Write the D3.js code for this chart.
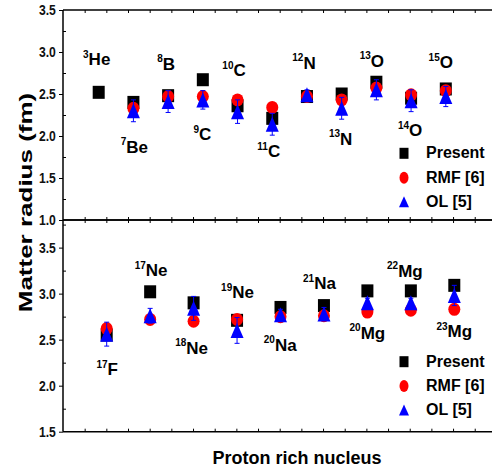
<!DOCTYPE html>
<html lang="en">
  <script src="https://d3js.org/d3.v7.min.js"></script>
  <style>
    body {
      margin: 0;
      background: #fff;
    }
    text {
      font-family: "Liberation Sans", Arial, sans-serif;
      font-weight: bold;
    }
  </style>
  <body>
    <svg width="492" height="471"></svg>
    <script>
      // upper panel: light proton rich nuclei
      const topMass = [3, 7, 8, 9, 10, 11, 12, 13, 13, 14, 15];
      const topElem = ["He", "Be", "B", "C", "C", "C", "N", "N", "O", "O", "O"];
      const topPresent = [2.52, 2.4, 2.48, 2.67, 2.36, 2.21, 2.47, 2.5, 2.64, 2.45, 2.56];
      const topRMF = [null, 2.33, 2.47, 2.47, 2.43, 2.34, 2.47, 2.43, 2.57, 2.49, 2.54];
      const topOL = [null, 2.3, 2.41, 2.43, 2.29, 2.14, 2.49, 2.33, 2.55, 2.42, 2.47];
      const topOLErr = [null, 0.13, 0.13, 0.11, 0.14, 0.13, 0.06, 0.13, 0.12, 0.13, 0.12];

      // lower panel: heavier proton rich nuclei
      const botMass = [17, 17, 18, 19, 20, 21, 20, 22, 23];
      const botElem = ["F", "Ne", "Ne", "Ne", "Na", "Na", "Mg", "Mg", "Mg"];
      const botPresent = [2.55, 3.02, 2.9, 2.71, 2.85, 2.87, 3.03, 3.03, 3.09];
      const botRMF = [2.62, 2.72, 2.7, 2.72, 2.75, 2.76, 2.8, 2.82, 2.83];
      const botOL = [2.56, 2.76, 2.84, 2.6, 2.77, 2.78, 2.9, 2.9, 2.98];
      const botOLErr = [0.13, 0.08, 0.13, 0.14, 0.06, 0.07, 0.05, 0.05, 0.11];

      const legendNames = ["Present", "RMF [6]", "OL [5]"];
      const topTicks = [1.0, 1.5, 2.0, 2.5, 3.0, 3.5];
      const botTicks = [1.5, 2.0, 2.5, 3.0, 3.5];

      // label placement (pixel shift, value at baseline)
      const topLabelPos = [[-2, 2.845], [1, 1.8], [-2, 2.786], [-0.5, 1.952], [-3.5, 2.714], [-3.5, 1.75],
        [-3, 2.798], [-1, 1.893], [-4.5, 2.825], [-1, 2.0], [-5, 2.806]];
      const botLabelPos = [[0.5, 2.116], [1, 3.19], [-2, 2.345], [0.5, 2.95], [-0.3, 2.38], [-4.5, 3.05],
        [0, 2.508], [-6, 3.185], [0, 2.526]];

      const svg = d3.select("svg");
      const left = 63, right = 500;

      const xTop = d3.scaleLinear().domain([0, 10]).range([98.7, 445.8]);
      const xBot = d3.scaleLinear().domain([0, 8]).range([106.7, 454.3]);
      const yTop = d3.scaleLinear().domain([1.0, 3.5]).range([220, 10]);
      const yBot = d3.scaleLinear().domain([1.5, 3.8]).range([431.7, 220]);
      const xTick = d3.scaleLinear().domain([0, 20]).range([left, left + 20 * 21.67]);

      const tri = (w, h) => ({
        draw(ctx) {
          ctx.moveTo(0, -h / 2);
          ctx.lineTo(w / 2, h / 2);
          ctx.lineTo(-w / 2, h / 2);
          ctx.closePath();
        }
      });

      function frame(y, yTicks) {
        const [y0, y1] = y.range();
        // left axis, major outward + minor inward
        const major = svg.append("g").attr("transform", `translate(${left},0)`)
          .call(d3.axisLeft(y).tickValues(yTicks).tickSize(4).tickPadding(3).tickFormat(d3.format(".1f")));
        major.selectAll("text").attr("font-size", 14.5).attr("fill", "#111")
          .attr("x", -8.5).attr("transform", "scale(0.84,1)");
        const minors = d3.range(y.domain()[0] + 0.25, y.domain()[1], 0.5);
        svg.append("g").attr("transform", `translate(${left},0)`)
          .call(d3.axisRight(y).tickValues(minors).tickSize(3).tickFormat(""));
        // bottom and top borders with inward ticks
        const xt = d3.range(1, 21);
        svg.append("g").attr("transform", `translate(0,${y0})`)
          .call(d3.axisTop(xTick).tickValues(xt).tickSize(3).tickFormat("").tickSizeOuter(0));
        svg.append("g").attr("transform", `translate(0,${y1})`)
          .call(d3.axisBottom(xTick).tickValues(xt).tickSize(3).tickFormat("").tickSizeOuter(0));
        svg.append("line").attr("x1", left).attr("x2", right).attr("y1", y0).attr("y2", y0);
        svg.append("line").attr("x1", left).attr("x2", right).attr("y1", y1).attr("y2", y1);
        svg.append("line").attr("x1", left).attr("x2", left).attr("y1", y0).attr("y2", y1);
      }

      function panel(x, y, mass, elem, present, rmf, ol, olErr, labelPos, legendY) {
        const g = svg.append("g");
        const idx = d3.range(mass.length);

        g.selectAll(".sq").data(idx.filter(i => present[i] != null)).join("rect")
          .attr("x", i => x(i) - 6).attr("y", i => y(present[i]) - 6.5)
          .attr("width", 12).attr("height", 13).attr("fill", "#000");

        g.selectAll(".ci").data(idx.filter(i => rmf[i] != null)).join("ellipse")
          .attr("cx", i => x(i)).attr("cy", i => y(rmf[i]))
          .attr("rx", 6).attr("ry", 6.5).attr("fill", "#ff0000");

        const eb = idx.filter(i => ol[i] != null);
        g.selectAll(".eb").data(eb).join("path")
          .attr("d", i => {
            const a = y(ol[i] + olErr[i]), b = y(ol[i] - olErr[i]), c = x(i);
            return `M${c},${a}V${b}M${c - 2.5},${a}H${c + 2.5}M${c - 2.5},${b}H${c + 2.5}`;
          })
          .attr("stroke", "#0000ff").attr("stroke-width", 1).attr("fill", "none");
        g.selectAll(".tr").data(eb).join("path")
          .attr("transform", i => `translate(${x(i)},${y(ol[i])})`)
          .attr("d", d3.symbol().type(tri(13, 15))).attr("fill", "#0000ff");

        // nucleus labels
        const lab = g.selectAll(".lab").data(idx).join("text")
          .attr("x", i => x(i) + labelPos[i][0]).attr("y", i => y(labelPos[i][1]))
          .attr("text-anchor", "middle").attr("fill", "#000");
        lab.append("tspan").attr("font-size", 10).attr("dy", -7.5).text(i => mass[i]);
        lab.append("tspan").attr("font-size", 17).attr("dy", 7.5).text(i => elem[i]);

        // legend
        const lg = svg.append("g").attr("transform", `translate(404,${legendY})`);
        lg.append("rect").attr("x", -4.5).attr("y", -5.5).attr("width", 9).attr("height", 11).attr("fill", "#000");
        lg.append("ellipse").attr("cy", 24.4).attr("rx", 4.5).attr("ry", 6).attr("fill", "#ff0000");
        lg.append("path").attr("transform", "translate(0,48.4)")
          .attr("d", d3.symbol().type(tri(10, 11))).attr("fill", "#0000ff");
        lg.selectAll("text").data(legendNames).join("text")
          .attr("x", 22).attr("y", (d, i) => 5 + i * 24.4)
          .attr("font-size", 16).attr("fill", "#000").text(d => d);
      }

      frame(yTop, topTicks);
      frame(yBot, botTicks);
      svg.selectAll(".domain").remove();
      svg.selectAll("line").attr("stroke", "#000").attr("stroke-width", 1.5);
      svg.selectAll(".tick line").attr("stroke-width", 1);

      panel(xTop, yTop, topMass, topElem, topPresent, topRMF, topOL, topOLErr, topLabelPos, 153.3);
      panel(xBot, yBot, botMass, botElem, botPresent, botRMF, botOL, botOLErr, botLabelPos, 361.7);

      svg.append("text").attr("x", 297).attr("y", 463.5).attr("text-anchor", "middle")
        .attr("font-size", 18).attr("fill", "#000").text("Proton rich nucleus");

      svg.append("text").attr("transform", "translate(32,202.5) rotate(-90) scale(1,0.74)")
        .attr("text-anchor", "middle").attr("font-size", 26).attr("fill", "#000")
        .text("Matter radius (fm)");
    </script>
  </body>
</html>
